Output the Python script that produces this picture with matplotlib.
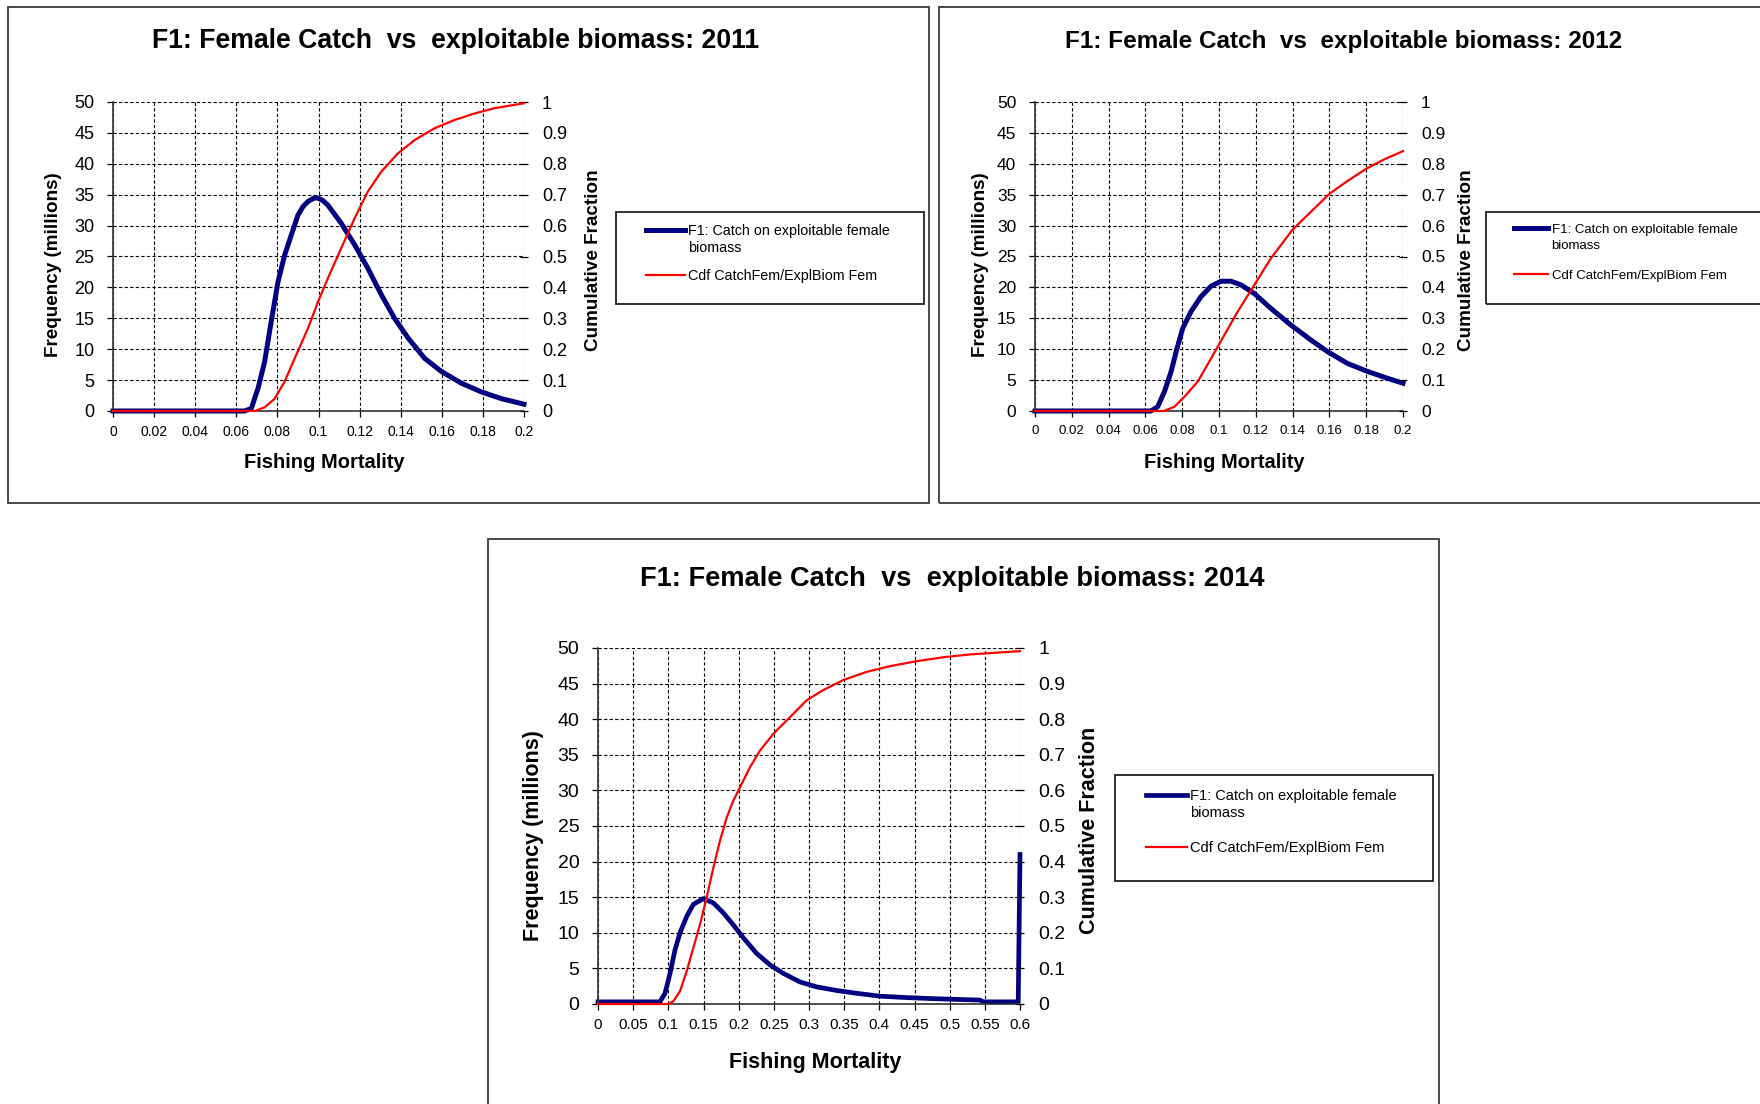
import matplotlib
matplotlib.use("Agg")
import matplotlib.pyplot as plt
from matplotlib.patches import Rectangle

plt.rcParams['font.family'] = ['Liberation Sans', 'DejaVu Sans']

# ---------------- data ----------------
freq_ticks = [0, 5, 10, 15, 20, 25, 30, 35, 40, 45, 50]
freq_ticklabels = ["0", "5", "10", "15", "20", "25", "30", "35", "40", "45", "50"]
cdf_ticks = [0, 0.1, 0.2, 0.3, 0.4, 0.5, 0.6, 0.7, 0.8, 0.9, 1.0]
cdf_ticklabels = ["0", "0.1", "0.2", "0.3", "0.4", "0.5", "0.6", "0.7", "0.8", "0.9", "1"]

x_ticks_02 = [0, 0.02, 0.04, 0.06, 0.08, 0.1, 0.12, 0.14, 0.16, 0.18, 0.2]
x_ticklabels_02 = ["0", "0.02", "0.04", "0.06", "0.08", "0.1", "0.12", "0.14", "0.16", "0.18", "0.2"]
x_ticks_06 = [0, 0.05, 0.1, 0.15, 0.2, 0.25, 0.3, 0.35, 0.4, 0.45, 0.5, 0.55, 0.6]
x_ticklabels_06 = ["0", "0.05", "0.1", "0.15", "0.2", "0.25", "0.3", "0.35", "0.4", "0.45", "0.5", "0.55", "0.6"]

# 2011
freq2011_x = [0, 0.064, 0.0673, 0.0706, 0.0738, 0.077, 0.0803, 0.0835, 0.0868, 0.09, 0.0925, 0.0949, 0.0975,
              0.0993, 0.102, 0.1046, 0.111, 0.1176, 0.124, 0.1306, 0.137, 0.1436, 0.1517, 0.1598, 0.1695,
              0.1792, 0.189, 0.2]
freq2011_y = [0, 0, 0.4, 3.7, 8.0, 14.5, 20.9, 25.2, 28.5, 31.7, 33.1, 33.9, 34.4,
              34.5, 34.1, 33.3, 30.4, 26.9, 23.1, 18.8, 15.0, 11.8, 8.5, 6.4, 4.5,
              3.1, 2.0, 1.1]
cdf2011_x = [0, 0.069, 0.0738, 0.0787, 0.0835, 0.0884, 0.0949, 0.0998, 0.1046, 0.111, 0.1176, 0.124,
             0.1306, 0.1387, 0.1468, 0.1565, 0.1663, 0.176, 0.1857, 0.2]
cdf2011_y = [0, 0, 0.012, 0.04, 0.095, 0.17, 0.268, 0.354, 0.43, 0.526, 0.624, 0.71,
             0.775, 0.834, 0.877, 0.915, 0.942, 0.963, 0.98, 0.996]

# 2012
freq2012_x = [0, 0.063, 0.0667, 0.0703, 0.074, 0.0767, 0.0803, 0.0848, 0.0902, 0.0957, 0.1011, 0.1065,
              0.112, 0.1192, 0.1282, 0.1391, 0.1499, 0.159, 0.1698, 0.1807, 0.1915, 0.2]
freq2012_y = [0, 0, 0.7, 3.1, 6.4, 9.6, 13.4, 16.1, 18.5, 20.2, 21.0, 21.0,
              20.4, 19.0, 16.6, 13.9, 11.5, 9.6, 7.7, 6.4, 5.3, 4.5]
cdf2012_x = [0, 0.07, 0.0758, 0.0812, 0.0884, 0.0957, 0.1029, 0.1101, 0.1192, 0.1282, 0.14, 0.15,
             0.16, 0.17, 0.18, 0.19, 0.2]
cdf2012_y = [0, 0, 0.014, 0.046, 0.095, 0.17, 0.246, 0.321, 0.408, 0.494, 0.587, 0.645,
             0.703, 0.745, 0.784, 0.815, 0.841]

# 2014
freq2014_x = [0, 0.088, 0.0953, 0.1024, 0.1095, 0.1166, 0.1261, 0.1356, 0.1498, 0.164, 0.1782, 0.1924,
              0.2066, 0.2256, 0.2445, 0.2635, 0.2872, 0.3109, 0.3393, 0.3678, 0.4009, 0.4389, 0.4768,
              0.51, 0.5431, 0.548, 0.5975, 0.6]
freq2014_y = [0.3, 0.3, 1.5, 4.3, 7.6, 10.0, 12.3, 14.0, 14.8, 14.2, 12.8, 11.1,
              9.3, 7.1, 5.5, 4.3, 3.1, 2.4, 1.9, 1.5, 1.1, 0.9, 0.75,
              0.65, 0.55, 0.3, 0.3, 21.0]
cdf2014_x = [0, 0.1, 0.107, 0.1166, 0.1261, 0.1356, 0.1451, 0.1545, 0.164, 0.1735, 0.183, 0.1924,
             0.2019, 0.2161, 0.2303, 0.2493, 0.273, 0.2967, 0.3204, 0.3488, 0.382, 0.4152, 0.4531,
             0.491, 0.5289, 0.5668, 0.6]
cdf2014_y = [0, 0, 0.0075, 0.036, 0.092, 0.158, 0.224, 0.299, 0.383, 0.459, 0.524, 0.571,
             0.609, 0.665, 0.712, 0.759, 0.806, 0.853, 0.882, 0.91, 0.933, 0.949, 0.963,
             0.974, 0.982, 0.987, 0.991]

titles = ["F1: Female Catch  vs  exploitable biomass: 2011",
          "F1: Female Catch  vs  exploitable biomass: 2012",
          "F1: Female Catch  vs  exploitable biomass: 2014"]
legend_labels = ["F1: Catch on exploitable female\nbiomass", "Cdf CatchFem/ExplBiom Fem"]
ylabel_left = "Frequency (millions)"
ylabel_right = "Cumulative Fraction"
xlabel = "Fishing Mortality"

# ---------------- layout ----------------
W, H = 1760, 1104
fig = plt.figure(figsize=(W / 100, H / 100), dpi=100)
fig.patch.set_facecolor("white")


def fx(x):
    return x / W


def fy(y):
    return 1 - y / H


def frame(x0, y0, x1, y1, lw=1.3, color="#3a3a3a"):
    fig.patches.append(Rectangle((fx(x0), fy(y1)), fx(x1) - fx(x0), fy(y0) - fy(y1),
                                 transform=fig.transFigure, fill=False, edgecolor=color,
                                 linewidth=lw, figure=fig, clip_on=False))


BLUE = "#000080"
RED = "#FF0000"

panels = [
    dict(box=(113, 102, 524, 411), frame=(8, 7, 929, 503), xmax=0.2, xt=x_ticks_02, xtl=x_ticklabels_02,
         fx_=freq2011_x, fy_=freq2011_y, cx=cdf2011_x, cy=cdf2011_y, title=titles[0],
         tpos=(456, 48), ylx=-0.1436, yly=0.4725, yrx=1.168, yry=0.489, xlx=0.513, xlb=468,
         leg_frame=(616, 212, 924, 304), leg_anchor=(646, 223.5), leg_fs=10.3, leg_hl=2.7, leg_ls=1.0,
         leg_lsp=1.3, hshift=7.0,
         ytfs=13, xtfs=10, titlefs=19.2, lblfs=13.6, xlblfs=14.5, blw=3.6),
    dict(box=(1035, 102, 1403, 411), frame=(939, 7, 1800, 503), xmax=0.2, xt=x_ticks_02, xtl=x_ticklabels_02,
         fx_=freq2012_x, fy_=freq2012_y, cx=cdf2012_x, cy=cdf2012_y, title=titles[1],
         tpos=(1344, 48), ylx=-0.147, yly=0.4725, yrx=1.172, yry=0.489, xlx=0.514, xlb=468,
         leg_frame=(1486, 212, 1800, 304), leg_anchor=(1514, 224.5), leg_fs=9.5, leg_hl=2.6, leg_ls=1.35,
         leg_lsp=1.37, hshift=7.0,
         ytfs=12.5, xtfs=9.5, titlefs=17.5, lblfs=13.6, xlblfs=14.5, blw=3.6),
    dict(box=(598, 648, 1020, 1004), frame=(488, 539, 1439, 1120), xmax=0.6, xt=x_ticks_06, xtl=x_ticklabels_06,
         fx_=freq2014_x, fy_=freq2014_y, cx=cdf2014_x, cy=cdf2014_y, title=titles[2],
         tpos=(952, 586), ylx=-0.152, yly=0.474, yrx=1.165, yry=0.489, xlx=0.514, xlb=1068,
         leg_frame=(1115, 775, 1433, 881), leg_anchor=(1146, 789), leg_fs=10.5, leg_hl=2.8, leg_ls=1.42,
         leg_lsp=1.31, hshift=7.5,
         ytfs=14, xtfs=11, titlefs=19.6, lblfs=15.5, xlblfs=15.5, blw=3.4),
]

for p in panels:
    frame(*p["frame"])
    l, t, r, b = p["box"]
    ax = fig.add_axes([fx(l), fy(b), fx(r) - fx(l), fy(t) - fy(b)])
    ax.set_xlim(0, p["xmax"])
    ax.set_ylim(0, 50)
    ax.set_xticks(p["xt"])
    ax.set_xticklabels(p["xtl"])
    ax.set_yticks(freq_ticks)
    ax.set_yticklabels(freq_ticklabels)
    ax.grid(True, color="black", linestyle=(0, (3, 2)), linewidth=0.8)
    ax.set_axisbelow(True)
    for s in ("top", "right"):
        ax.spines[s].set_visible(False)
    for s in ("left", "bottom"):
        ax.spines[s].set_color("#333333")
        ax.spines[s].set_linewidth(1.2)
    ax.tick_params(axis="y", direction="out", length=4.5, width=0.9, pad=9,
                   labelsize=p["ytfs"], colors="black")
    ax.tick_params(axis="x", direction="out", length=4, width=0.9, pad=6,
                   labelsize=p["xtfs"], colors="black")
    bl, = ax.plot(p["fx_"], p["fy_"], color=BLUE, lw=p["blw"], clip_on=False,
                  solid_joinstyle="round", label=legend_labels[0])

    ax2 = ax.twinx()
    ax2.set_ylim(0, 1)
    ax2.set_yticks(cdf_ticks)
    ax2.set_yticklabels(cdf_ticklabels)
    for s in ax2.spines.values():
        s.set_visible(False)
    ax2.tick_params(axis="y", direction="inout", length=6, width=0.9, pad=10,
                    labelsize=p["ytfs"], colors="black")
    rl, = ax2.plot(p["cx"], p["cy"], color=RED, lw=1.6, clip_on=False, label=legend_labels[1])

    ax.text(p["ylx"], p["yly"], ylabel_left, transform=ax.transAxes, rotation=90,
            ha="center", va="center", fontsize=p["lblfs"], fontweight="bold")
    ax.text(p["yrx"], p["yry"], ylabel_right, transform=ax.transAxes, rotation=90,
            ha="center", va="center", fontsize=p["lblfs"], fontweight="bold")
    fig.text(fx(l + p["xlx"] * (r - l)), fy(p["xlb"]), xlabel, ha="center", va="baseline",
             fontsize=p["xlblfs"], fontweight="bold")
    fig.text(fx(p["tpos"][0]), fy(p["tpos"][1]), p["title"], ha="center", va="baseline",
             fontsize=p["titlefs"], fontweight="bold")

    frame(*p["leg_frame"], lw=1.3, color="#222222")
    leg = fig.legend([bl, rl], legend_labels, loc="upper left",
                     bbox_to_anchor=(fx(p["leg_anchor"][0]), fy(p["leg_anchor"][1])),
                     bbox_transform=fig.transFigure, frameon=False, borderpad=0,
                     borderaxespad=0, handlelength=p["leg_hl"], handletextpad=0.25,
                     labelspacing=p["leg_ls"], fontsize=p["leg_fs"])
    for txt in leg.get_texts():
        txt.set_linespacing(p["leg_lsp"])
    h0 = leg.legend_handles[0]
    h0.set_ydata([v + p["hshift"] for v in h0.get_ydata()])

fig.savefig("out.png", dpi=100, facecolor="white")
